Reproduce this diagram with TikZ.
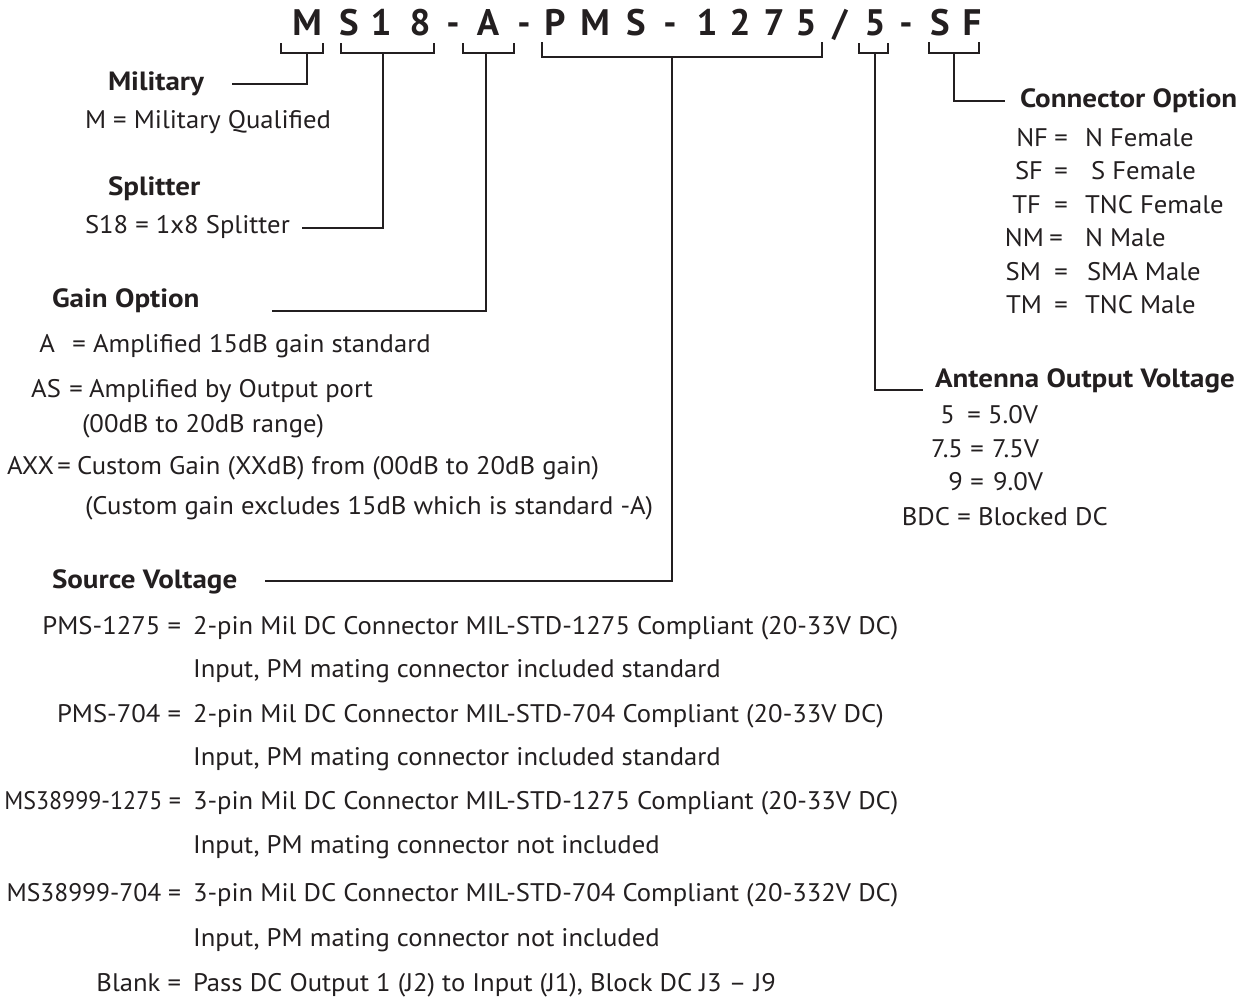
\documentclass[tikz,border=0pt]{standalone}
\usepackage{fontspec}
\setmainfont{PT Sans}[FakeStretch=1.05]
\newfontfamily\hdfam{PT Sans}[FakeStretch=1.1]
\newfontfamily\ttfam{PT Sans}
\definecolor{ink}{RGB}{35,31,32}
\newcommand{\rgf}{\fontsize{25.5}{30}\selectfont}
\newcommand{\hdf}{\hdfam\fontsize{26.5}{30}\selectfont\bfseries}
\newcommand{\ttf}{\ttfam\fontsize{37}{40}\selectfont\bfseries}
\tikzset{
  txt/.style={anchor=base west, inner sep=0pt, outer sep=0pt, text=ink, font=\rgf},
  txte/.style={anchor=base east, inner sep=0pt, outer sep=0pt, text=ink, font=\rgf},
  eqs/.style={anchor=base, inner sep=0pt, outer sep=0pt, text=ink, font=\rgf},
  head/.style={anchor=base west, inner sep=0pt, outer sep=0pt, text=ink, font=\hdf},
  code/.style={anchor=base, inner sep=0pt, outer sep=0pt, text=ink, font=\ttf},
  ln/.style={draw=ink, line width=2.2bp, line join=miter}
}
\begin{document}
\begin{tikzpicture}[x=1bp,y=-1bp]
\useasboundingbox (0,0) rectangle (1248,998);
% ---- part number ----
\foreach \c/\xx [count=\i] in {M/307,S/349,1/381,8/420,-/453,A/488,-/524,P/555,M/595,S/636,-/670,1/707,2/740,7/774,5/806,{/}/840,5/875,-/906,S/940,F/972}
  \node[code] (t\i) at (\xx,35) {\c};
% ---- brackets ----
\draw[ln] (281,43) -- (281,53) -- (323,53) -- (323,43);
\draw[ln] (341,43) -- (341,53) -- (434,53) -- (434,43);
\draw[ln] (463,43) -- (463,53) -- (514,53) -- (514,43);
\draw[ln] (542,42) -- (542,57) -- (822,57) -- (822,42);
\draw[ln] (859,43) -- (859,53) -- (888,53) -- (888,43);
\draw[ln] (929,42) -- (929,53) -- (979,53) -- (979,42);
\coordinate (bM) at (307,53);
\coordinate (bS) at (383,53);
\coordinate (bA) at (486,53);
\coordinate (bP) at (672,57);
\coordinate (bV) at (875,53);
\coordinate (bC) at (954,53);
\coordinate (eM) at (232,84);
\coordinate (eS) at (302,228);
\coordinate (eA) at (272,311);
\coordinate (eP) at (265,581);
\coordinate (eV) at (923,390);
\coordinate (eC) at (1005,101);
\draw[ln] (bM) |- (eM);
\draw[ln] (bS) |- (eS);
\draw[ln] (bA) |- (eA);
\draw[ln] (bP) |- (eP);
\draw[ln] (bV) |- (eV);
\draw[ln] (bC) |- (eC);
% ---- Military / Splitter ----
\node[head] (hMil) at (108,90) {Military};
\node[txt] (mil1) at (85,128) {M = Military Qualified};
\node[head] (hSpl) at (108,195) {Splitter};
\node[txt] (spl1) at (85,233) {S18 = 1x8 Splitter};
% ---- Gain ----
\node[head] (hGain) at (52,307) {Gain Option};
\node[txte] (gA) at (55,352) {A};
\node[eqs] (gAe) at (79,352) {=};
\node[txt] (gAv) at (93,352) {Amplified 15dB gain standard};
\node[txte] (gAS) at (61,397) {AS};
\node[eqs] (gASe) at (76,397) {=};
\node[txt] (gASv) at (89,397) {Amplified by Output port};
\node[txt] (gASr) at (82,432) {(00dB to 20dB range)};
\node[txte] (gAX) at (54,474) {AXX};
\node[eqs] (gAXe) at (64,474) {=};
\node[txt] (gAXv) at (77,474) {Custom Gain (XXdB) from (00dB to 20dB gain)};
\node[txt] (gAXn) at (85,514) {(Custom gain excludes 15dB which is standard -A)};
% ---- Source voltage ----
\node[head] (hSrc) at (52,588) {Source Voltage};
\node[txte] (s1) at (181,634) {PMS-1275 =};
\node[txt] (s1v) at (193,634) {2-pin Mil DC Connector MIL-STD-1275 Compliant (20-33V DC)};
\node[txt] (s1w) at (193,677) {Input, PM mating connector included standard};
\node[txte] (s2) at (181,722) {PMS-704 =};
\node[txt] (s2v) at (193,722) {2-pin Mil DC Connector MIL-STD-704 Compliant (20-33V DC)};
\node[txt] (s2w) at (193,765) {Input, PM mating connector included standard};
\node[txte] (s3) at (181,809) {\scalebox{0.9}[1]{MS38999-1275 =}};
\node[txt] (s3v) at (193,809) {3-pin Mil DC Connector MIL-STD-1275 Compliant (20-33V DC)};
\node[txt] (s3w) at (193,853) {Input, PM mating connector not included};
\node[txte] (s4) at (181,901) {\scalebox{0.96}[1]{MS38999-704 =}};
\node[txt] (s4v) at (193,901) {3-pin Mil DC Connector MIL-STD-704 Compliant (20-332V DC)};
\node[txt] (s4w) at (193,946) {Input, PM mating connector not included};
\node[txte] (s5) at (181,991) {Blank =};
\node[txt] (s5v) at (193,991) {Pass DC Output 1 (J2) to Input (J1), Block DC J3 -- J9};
% ---- Connector option ----
\node[head] (hCon) at (1020,107) {Connector Option};
\node[txte] (c1) at (1048,146) {NF}; \node[eqs] (c1e) at (1061,146) {=}; \node[txt] (c1v) at (1085,146) {N Female};
\node[txte] (c2) at (1043,179) {SF}; \node[eqs] (c2e) at (1061,179) {=}; \node[txt] (c2v) at (1091,179) {S Female};
\node[txte] (c3) at (1041,213) {TF}; \node[eqs] (c3e) at (1061,213) {=}; \node[txt] (c3v) at (1085,213) {TNC Female};
\node[txte] (c4) at (1044,246) {NM}; \node[eqs] (c4e) at (1056,246) {=}; \node[txt] (c4v) at (1085,246) {N Male};
\node[txte] (c5) at (1041,280) {SM}; \node[eqs] (c5e) at (1061,280) {=}; \node[txt] (c5v) at (1087,280) {SMA Male};
\node[txte] (c6) at (1042,313) {TM}; \node[eqs] (c6e) at (1061,313) {=}; \node[txt] (c6v) at (1085,313) {TNC Male};
% ---- Antenna output voltage ----
\node[head] (hAnt) at (935,387) {Antenna Output Voltage};
\node[txte] (a1) at (955,423) {5};   \node[eqs] (a1e) at (974,423) {=}; \node[txt] (a1v) at (988,423) {5.0V};
\node[txte] (a2) at (963,457) {7.5}; \node[eqs] (a2e) at (977,457) {=}; \node[txt] (a2v) at (992,457) {7.5V};
\node[txte] (a3) at (963,490) {9};   \node[eqs] (a3e) at (977,490) {=}; \node[txt] (a3v) at (993,490) {9.0V};
\node[txte] (a4) at (950,525) {BDC}; \node[eqs] (a4e) at (964,525) {=}; \node[txt] (a4v) at (978,525) {Blocked DC};
\end{tikzpicture}
\end{document}
